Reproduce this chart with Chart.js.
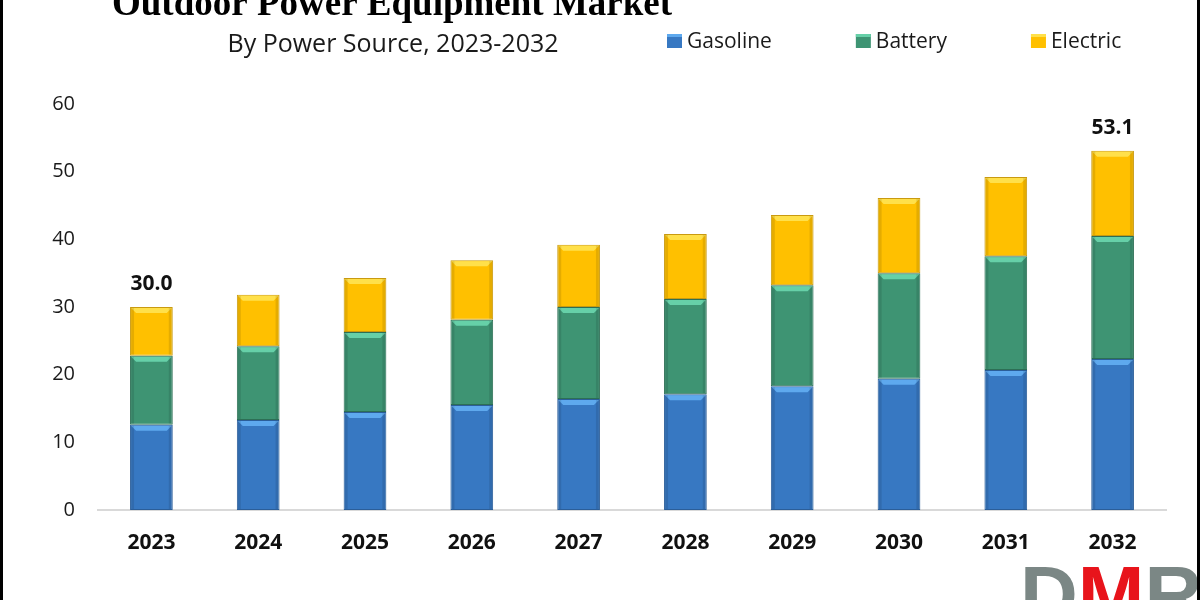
<!DOCTYPE html>
<html>
<head>
<meta charset="utf-8">
<title>Outdoor Power Equipment Market</title>
<script src="https://cdn.jsdelivr.net/npm/chart.js@4.4.1/dist/chart.umd.min.js"></script>
<style>
    html, body { margin: 0; padding: 0; background: #fff; }
    #wrap { width: 1200px; height: 600px; position: relative; }
</style>
</head>
<body>
<div id="wrap"><canvas id="marketChart"></canvas></div>
<script>
// chart data (USD billion)
const years = ["2023", "2024", "2025", "2026", "2027", "2028", "2029", "2030", "2031", "2032"];
const gasoline = [12.6, 13.3, 14.5, 15.5, 16.4, 17.1, 18.3, 19.4, 20.7, 22.3];
const battery = [10.2, 10.9, 11.8, 12.6, 13.6, 14.1, 14.9, 15.6, 16.8, 18.2];
const electric = [7.2, 7.6, 8.0, 8.8, 9.2, 9.6, 10.4, 11.1, 11.7, 12.6];
const yTicks = [0, 10, 20, 30, 40, 50, 60];
const labeledYears = ["2023", "2032"];

const titleText = "Outdoor Power Equipment Market";
const subtitleText = "By Power Source, 2023-2032";

// colours: main fill, border, bevel highlight
const palette = {
    Gasoline: { fill: "#3778c2", border: "#2b5e99", light: "#5ea9ee" },
    Battery: { fill: "#3e9473", border: "#2d6f55", light: "#66d0a8" },
    Electric: { fill: "#ffc000", border: "#c99a10", light: "#ffe04a" }
};

function makeSet(label, data) {
    return {
        label: label,
        data: data,
        backgroundColor: palette[label].fill,
        borderColor: palette[label].border,
        borderWidth: 1,
        borderSkipped: false,
        barPercentage: 0.4,
        categoryPercentage: 1
    };
}

// light strip on top of each segment, like the bevelled bars in the source
const bevelPlugin = {
    id: "bevel",
    afterDatasetsDraw(chart) {
        const ctx = chart.ctx;
        ctx.save();
        chart.data.datasets.forEach(function (ds, i) {
            const meta = chart.getDatasetMeta(i);
            const light = palette[ds.label].light;
            meta.data.forEach(function (bar) {
                const left = bar.x - bar.width / 2 + 1;
                const right = bar.x + bar.width / 2 - 1;
                const top = Math.min(bar.y, bar.base) + 1;
                ctx.fillStyle = light;
                ctx.beginPath();
                ctx.moveTo(left, top);
                ctx.lineTo(right, top);
                ctx.lineTo(right - 5, top + 5);
                ctx.lineTo(left + 5, top + 5);
                ctx.closePath();
                ctx.fill();
                ctx.fillStyle = "rgba(0,0,0,0.10)";
                ctx.fillRect(left, top, 3, Math.abs(bar.base - bar.y) - 2);
                ctx.fillRect(right - 3, top, 3, Math.abs(bar.base - bar.y) - 2);
            });
        });
        ctx.restore();
    }
};

// title, subtitle, legend, total labels, logo and frame
const decorPlugin = {
    id: "decor",
    afterDraw(chart) {
        const ctx = chart.ctx;
        const yScale = chart.scales.y;
        ctx.save();

        ctx.fillStyle = "#000";
        ctx.textAlign = "center";
        ctx.textBaseline = "alphabetic";
        ctx.font = "bold 37px 'Liberation Serif'";
        ctx.fillText(titleText, 392, 15);

        ctx.fillStyle = "#1a1a1a";
        ctx.font = "25px 'Open Sans'";
        ctx.fillText(subtitleText, 393, 52);

        // legend
        ctx.font = "21px 'Open Sans'";
        ctx.textAlign = "left";
        let x = 667;
        chart.data.datasets.forEach(function (ds) {
            const c = palette[ds.label];
            ctx.fillStyle = c.fill;
            ctx.fillRect(x, 34, 15, 14);
            ctx.fillStyle = c.light;
            ctx.fillRect(x, 34, 15, 3);
            ctx.fillStyle = "#1a1a1a";
            ctx.fillText(ds.label, x + 20, 48);
            x += 20 + ctx.measureText(ds.label).width + 84;
        });

        // totals above first and last bar
        ctx.font = "bold 21px 'Open Sans'";
        ctx.textAlign = "center";
        ctx.textBaseline = "middle";
        ctx.fillStyle = "#111";
        const lastMeta = chart.getDatasetMeta(chart.data.datasets.length - 1);
        years.forEach(function (yr, i) {
            if (labeledYears.indexOf(yr) < 0) return;
            const total = gasoline[i] + battery[i] + electric[i];
            const bar = lastMeta.data[i];
            ctx.fillText(total.toFixed(1), bar.x, yScale.getPixelForValue(total) - 23);
        });

        // logo
        ctx.textAlign = "left";
        ctx.textBaseline = "alphabetic";
        ctx.font = "bold 80px 'Liberation Sans'";
        ctx.fillStyle = "#7b8785";
        ctx.fillText("D", 1020, 622);
        const dW = ctx.measureText("D").width;
        ctx.fillStyle = "#e8141b";
        ctx.fillText("M", 1020 + dW, 622);
        const mW = ctx.measureText("M").width;
        ctx.fillStyle = "#7b8785";
        ctx.fillText("R", 1020 + dW + mW, 622);

        // frame edges
        ctx.fillStyle = "#000";
        ctx.fillRect(0, 0, 3, chart.height);
        ctx.fillRect(chart.width - 3, 0, 3, chart.height);

        ctx.restore();
    }
};

const canvas = document.getElementById("marketChart");
new Chart(canvas, {
    type: "bar",
    data: {
        labels: years,
        datasets: [
            makeSet("Gasoline", gasoline),
            makeSet("Battery", battery),
            makeSet("Electric", electric)
        ]
    },
    options: {
        responsive: true,
        maintainAspectRatio: false,
        animation: false,
        layout: {
            padding: { top: 104, right: 34, bottom: 0, left: 0 }
        },
        plugins: {
            legend: { display: false },
            tooltip: { enabled: false }
        },
        scales: {
            x: {
                stacked: true,
                grid: { display: false, drawTicks: false },
                border: { display: true, color: "#d9d9d9", width: 2 },
                ticks: {
                    padding: 20,
                    color: "#111",
                    font: { family: "'Open Sans'", size: 21, weight: "bold" }
                },
                afterFit: function (scale) { scale.height = 90; }
            },
            y: {
                stacked: true,
                min: 0,
                max: 60,
                grid: { display: false, drawTicks: false },
                border: { display: false },
                afterBuildTicks: function (scale) {
                    scale.ticks = yTicks.map(function (v) { return { value: v }; });
                },
                ticks: {
                    padding: 23,
                    color: "#1a1a1a",
                    font: { family: "'Open Sans'", size: 20 }
                },
                afterFit: function (scale) { scale.width = 98; }
            }
        }
    },
    plugins: [bevelPlugin, decorPlugin]
});
</script>
</body>
</html>
